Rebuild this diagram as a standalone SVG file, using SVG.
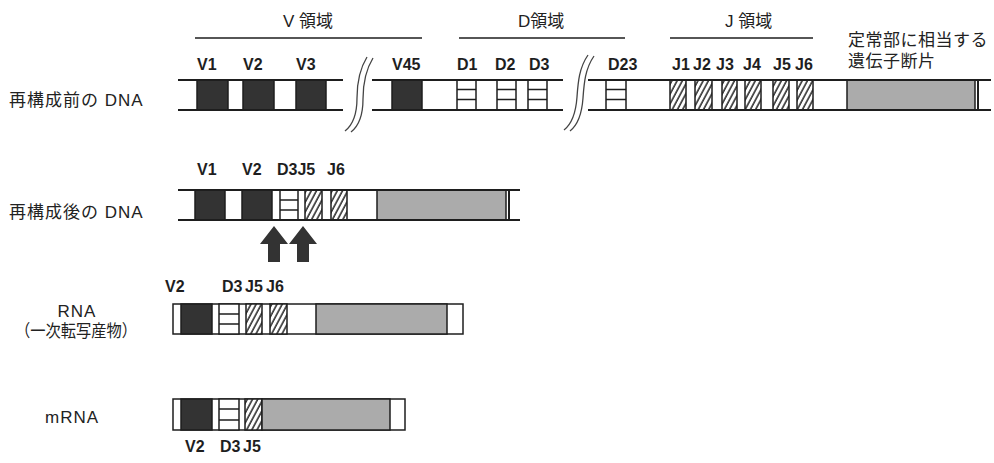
<svg xmlns="http://www.w3.org/2000/svg" width="994" height="463" viewBox="0 0 994 463">
<style>
.bg{fill:#ffffff}
.ln{stroke:#1e1e1e;stroke-width:2;fill:none}
.box{stroke:#1e1e1e;stroke-width:1.5}
.dark{fill:#333333}
.grey{fill:#ababab}
.white{fill:#ffffff}
.hatch{fill:url(#hatch)}
.brk{stroke:#444;stroke-width:1.3;fill:none}
.lbl{font-family:"Liberation Sans",Arial,sans-serif;font-weight:bold;font-size:16px;fill:#1e1e1e}
.jp{font-family:"Liberation Sans","Noto Sans CJK JP",sans-serif;font-size:17px;fill:#222}
.sp{letter-spacing:1px}
.arrow{fill:#333333}
</style>
<defs>
<pattern id="hatch" patternUnits="userSpaceOnUse" width="4.6" height="6" patternTransform="rotate(28)">
<rect width="4.6" height="6" fill="#ffffff"/>
<line x1="1" y1="0" x2="1" y2="6" stroke="#222" stroke-width="1.5"/>
</pattern>
</defs>
<rect class="bg" width="994" height="463"/>

<g id="headers">
<text class="jp" x="283" y="27">V 領域</text>
<line class="ln" x1="195" y1="38" x2="422" y2="38" style="stroke-width:1.5"/>
<text class="jp" x="518" y="27">D領域</text>
<line class="ln" x1="459" y1="38" x2="625" y2="38" style="stroke-width:1.5"/>
<text class="jp" x="725" y="27">J 領域</text>
<line class="ln" x1="670" y1="38" x2="813" y2="38" style="stroke-width:1.5"/>
<text class="jp" x="848" y="46" style="letter-spacing:0.5px">定常部に相当する</text>
<text class="jp" x="848" y="67" style="letter-spacing:0.5px">遺伝子断片</text>
</g>

<g id="dna-before">
<text class="jp sp" x="9" y="106">再構成前の DNA</text>
<text class="lbl" x="197" y="70">V1</text>
<text class="lbl" x="243" y="70">V2</text>
<text class="lbl" x="296" y="70">V3</text>
<text class="lbl" x="392" y="70">V45</text>
<text class="lbl" x="457" y="70">D1</text>
<text class="lbl" x="495" y="70">D2</text>
<text class="lbl" x="529" y="70">D3</text>
<text class="lbl" x="608" y="70">D23</text>
<text class="lbl" x="672" y="70">J1</text>
<text class="lbl" x="693" y="70">J2</text>
<text class="lbl" x="716" y="70">J3</text>
<text class="lbl" x="743" y="70">J4</text>
<text class="lbl" x="773" y="70">J5</text>
<text class="lbl" x="795" y="70">J6</text>
<rect class="dark box" x="197" y="80" width="31" height="30"/>
<rect class="dark box" x="243" y="80" width="31" height="30"/>
<rect class="dark box" x="296" y="80" width="30" height="30"/>
<rect class="dark box" x="392" y="80" width="30" height="30"/>
<rect class="white box" x="457" y="80" width="19" height="30"/>
<rect class="white box" x="497" y="80" width="19" height="30"/>
<rect class="white box" x="528" y="80" width="19" height="30"/>
<rect class="white box" x="606" y="80" width="20" height="30"/>
<path class="ln" style="stroke-width:1.5" d="M457 89.5H476M457 99.5H476M497 89.5H516M497 99.5H516M528 89.5H547M528 99.5H547M606 89.5H626M606 99.5H626"/>
<rect class="hatch box" x="670" y="80" width="16" height="30"/>
<rect class="hatch box" x="695" y="80" width="17" height="30"/>
<rect class="hatch box" x="722" y="80" width="15" height="30"/>
<rect class="hatch box" x="745" y="80" width="16" height="30"/>
<rect class="hatch box" x="773" y="80" width="16" height="30"/>
<rect class="hatch box" x="797" y="80" width="16" height="30"/>
<rect class="grey box" x="847" y="80" width="128" height="30"/>
<path class="ln" d="M178 80H343M178 110H343M372 80H563M372 110H563M588 80H991M588 110H991M978 80V110"/>
<path class="brk" d="M367 57C359 70 357 84 357 98C357 112 354 124 345 131"/>
<path class="brk" d="M373 58C365 71 363 85 363 99C363 113 360 125 351 132"/>
<path class="brk" d="M588 55C579 68 578 83 577 97C576 111 573 123 564 130"/>
<path class="brk" d="M594 56C585 69 584 84 583 98C582 112 579 124 570 131"/>
</g>

<g id="dna-after">
<text class="jp sp" x="9" y="218">再構成後の DNA</text>
<text class="lbl" x="197" y="175">V1</text>
<text class="lbl" x="242" y="175">V2</text>
<text class="lbl" x="277" y="175">D3J5</text>
<text class="lbl" x="327" y="175">J6</text>
<rect class="dark box" x="195" y="190" width="30" height="30"/>
<rect class="dark box" x="242" y="190" width="30" height="30"/>
<rect class="white box" x="280" y="190" width="18" height="30"/>
<path class="ln" style="stroke-width:1.5" d="M280 200H298M280 210H298"/>
<rect class="hatch box" x="305" y="190" width="17" height="30"/>
<rect class="hatch box" x="331" y="190" width="16" height="30"/>
<rect class="grey box" x="377" y="190" width="129" height="30"/>
<path class="ln" d="M178 190H520M178 220H520M509 190V220"/>
</g>

<g id="connectors">
<path class="arrow" d="M274 226L288 244H280V262H268V244H260Z"/>
<path class="arrow" d="M303 226L317 244H309V262H297V244H289Z"/>
</g>

<g id="rna">
<text class="jp sp" x="77" y="317" text-anchor="middle">RNA</text>
<text class="jp" x="76" y="337" text-anchor="middle" textLength="122" lengthAdjust="spacingAndGlyphs">（一次転写産物）</text>
<text class="lbl" x="165" y="292">V2</text>
<text class="lbl" x="222" y="292">D3</text>
<text class="lbl" x="245" y="292">J5</text>
<text class="lbl" x="266" y="292">J6</text>
<rect class="white box" x="173" y="304" width="290" height="30"/>
<rect class="dark box" x="181" y="304" width="31" height="30"/>
<rect class="white box" x="219" y="304" width="20" height="30"/>
<path class="ln" style="stroke-width:1.5" d="M219 314H239M219 324H239"/>
<rect class="hatch box" x="246" y="304" width="16" height="30"/>
<rect class="hatch box" x="270" y="304" width="17" height="30"/>
<rect class="grey box" x="316" y="304" width="131" height="30"/>
</g>

<g id="mrna">
<text class="jp sp" x="45" y="423">mRNA</text>
<rect class="white box" x="173" y="399" width="232" height="31"/>
<rect class="dark box" x="181" y="399" width="31" height="31"/>
<rect class="white box" x="219" y="399" width="20" height="31"/>
<path class="ln" style="stroke-width:1.5" d="M219 409H239M219 420H239"/>
<rect class="hatch box" x="245" y="399" width="17" height="31"/>
<rect class="grey box" x="262" y="399" width="128" height="31"/>
<text class="lbl" x="185" y="452">V2</text>
<text class="lbl" x="220" y="452">D3</text>
<text class="lbl" x="243" y="452">J5</text>
</g>
</svg>
